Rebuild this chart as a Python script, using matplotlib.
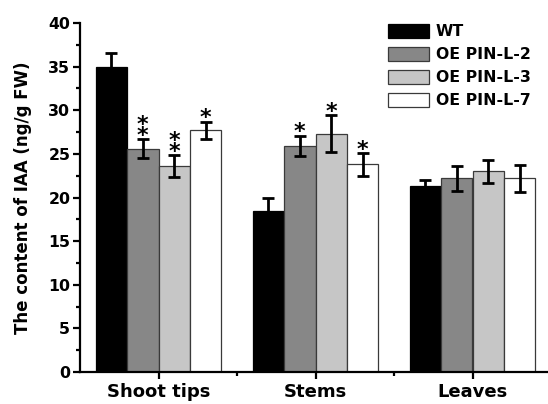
import matplotlib
matplotlib.use("Agg")
import matplotlib.pyplot as plt
import numpy as np
from matplotlib.ticker import MultipleLocator, FixedLocator

plt.rcParams['font.family'] = ['DejaVu Sans']
plt.rcParams['font.weight'] = 'bold'

categories = ["Shoot tips", "Stems", "Leaves"]
series = ["WT", "OE PIN-L-2", "OE PIN-L-3", "OE PIN-L-7"]
wt = [35.0, 18.4, 21.3]
oe2 = [25.6, 25.9, 22.2]
oe3 = [23.6, 27.3, 23.0]
oe7 = [27.7, 23.8, 22.2]
wt_err = [1.6, 1.5, 0.75]
oe2_err = [1.1, 1.2, 1.45]
oe3_err = [1.3, 2.1, 1.35]
oe7_err = [1.0, 1.3, 1.55]
# significance marks per series per category
wt_sig = ["", "", ""]
oe2_sig = ["**", "*", ""]
oe3_sig = ["**", "*", ""]
oe7_sig = ["*", "*", ""]

values = [wt, oe2, oe3, oe7]
errors = [wt_err, oe2_err, oe3_err, oe7_err]
sigs = [wt_sig, oe2_sig, oe3_sig, oe7_sig]
colors = ["#000000", "#878787", "#c6c6c6", "#ffffff"]
edges = ["#000000", "#3a3a3a", "#3a3a3a", "#3a3a3a"]

W, H = 548, 404
fig = plt.figure(figsize=(W / 100, H / 100), dpi=100)
ax = fig.add_axes([80 / W, 32 / H, 471 / W, 349 / H])

x = np.arange(len(categories))
bw = 0.2
for i, (vals, errs, sg) in enumerate(zip(values, errors, sigs)):
    pos = x - 0.3 + i * bw
    ax.bar(pos, vals, width=bw, color=colors[i], edgecolor=edges[i],
           linewidth=0.9, label=series[i], zorder=2)
    ax.errorbar(pos, vals, yerr=errs, fmt="none", ecolor="black",
                elinewidth=2.0, capsize=4, capthick=2.0, zorder=3)
    for p, v, e, s in zip(pos, vals, errs, sg):
        if s:
            ax.annotate("\n".join(s), xy=(p, v + e), xytext=(0, -2),
                        textcoords="offset points", ha="center",
                        va="baseline", fontsize=16, fontweight="bold",
                        linespacing=0.42, zorder=4)

ax.set_xlim(-0.5, 2.5)
ax.set_ylim(0, 40)
ax.spines['top'].set_visible(False)
ax.spines['right'].set_visible(False)
ax.spines['left'].set_linewidth(1.6)
ax.spines['bottom'].set_linewidth(1.6)

ax.set_xticks(x)
ax.set_xticklabels(categories, fontsize=13, fontweight="bold")
ax.xaxis.set_minor_locator(FixedLocator([0.5, 1.5]))
ax.yaxis.set_major_locator(MultipleLocator(5))
ax.yaxis.set_minor_locator(MultipleLocator(2.5))
ax.tick_params(axis='both', which='major', direction='out', length=5, width=1.6)
ax.tick_params(axis='both', which='minor', direction='out', length=3, width=1.6)
ax.tick_params(axis='y', labelsize=11.3, pad=2)
ax.tick_params(axis='x', pad=3)
for lbl in ax.get_yticklabels():
    lbl.set_fontweight("bold")

ax.set_ylabel("The content of IAA (ng/g FW)", fontsize=12, fontweight="bold", labelpad=11.5)

leg = fig.legend(loc="upper left", bbox_to_anchor=(388 / W, 1 - 24 / H),
                 frameon=False, prop={'weight': 'bold', 'size': 11.3},
                 handlelength=2.6, handleheight=0.95, handletextpad=0.45,
                 labelspacing=0.5, borderpad=0, borderaxespad=0)

fig.savefig("out.png", dpi=100)
